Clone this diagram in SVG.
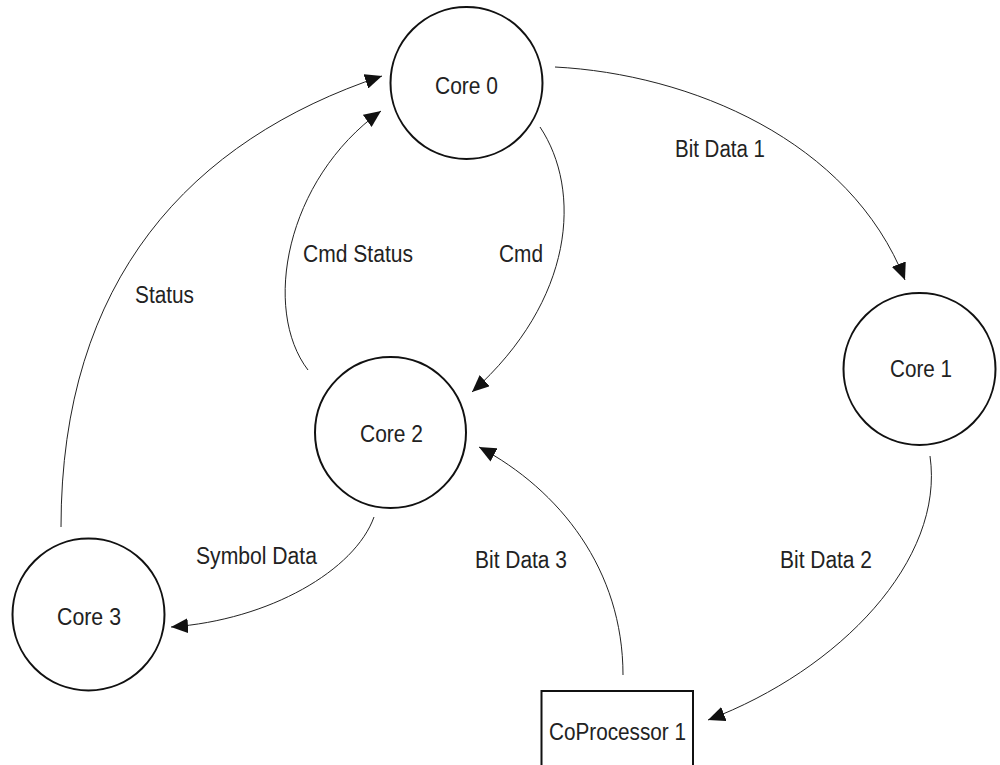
<svg xmlns="http://www.w3.org/2000/svg" width="1000" height="765" viewBox="0 0 1000 765">
<defs>
<marker id="arrow" markerUnits="userSpaceOnUse" markerWidth="17" markerHeight="15" refX="17" refY="7.5" orient="auto">
<path d="M0,0 L17,7.5 L0,15 z" fill="#111"/>
</marker>
<style>
.node{fill:#fff;stroke:#111;stroke-width:2}
.lbl{font-family:"Liberation Sans",Arial,sans-serif;font-size:23.5px;fill:#222;text-anchor:middle}
.edge{fill:none;stroke:#222;stroke-width:1;marker-end:url(#arrow)}
.elbl{font-family:"Liberation Sans",Arial,sans-serif;font-size:23.5px;fill:#222}
</style>
</defs>
<rect width="1000" height="765" fill="#fff"/>
<g id="connectors">
<path class="edge" d="M555,67 C690,74 850,140 905,280"/>
<path class="edge" d="M540,127 C582,190 575,300 472,392"/>
<path class="edge" d="M308,370 C262,310 285,180 381,111"/>
<path class="edge" d="M61,527 C61,280 190,140 382,76"/>
<path class="edge" d="M374,517 C355,570 270,620 171,627"/>
<path class="edge" d="M623,675 C623,570 560,490 479,447"/>
<path class="edge" d="M930,456 C945,560 840,670 708,720"/>
<text class="elbl" x="675" y="157" textLength="90" lengthAdjust="spacingAndGlyphs">Bit Data 1</text>
<text class="elbl" x="499" y="261.5" textLength="44" lengthAdjust="spacingAndGlyphs">Cmd</text>
<text class="elbl" x="303" y="261.5" textLength="110" lengthAdjust="spacingAndGlyphs">Cmd Status</text>
<text class="elbl" x="135" y="302.5" textLength="59" lengthAdjust="spacingAndGlyphs">Status</text>
<text class="elbl" x="196" y="564" textLength="121" lengthAdjust="spacingAndGlyphs">Symbol Data</text>
<text class="elbl" x="475" y="568" textLength="92" lengthAdjust="spacingAndGlyphs">Bit Data 3</text>
<text class="elbl" x="780" y="568" textLength="92" lengthAdjust="spacingAndGlyphs">Bit Data 2</text>
</g>
<g id="core0">
<circle class="node" cx="466.5" cy="83" r="76"/>
<text class="lbl" x="466.5" y="93.5" textLength="63" lengthAdjust="spacingAndGlyphs">Core 0</text>
</g>
<g id="core1">
<circle class="node" cx="919.5" cy="369" r="76"/>
<text class="lbl" x="921" y="376.5" textLength="62" lengthAdjust="spacingAndGlyphs">Core 1</text>
</g>
<g id="core2">
<circle class="node" cx="390.5" cy="432.5" r="75.5"/>
<text class="lbl" x="391.5" y="441.5" textLength="63" lengthAdjust="spacingAndGlyphs">Core 2</text>
</g>
<g id="core3">
<circle class="node" cx="88.5" cy="614.5" r="76"/>
<text class="lbl" x="89" y="624.5" textLength="64" lengthAdjust="spacingAndGlyphs">Core 3</text>
</g>
<g id="coprocessor1">
<rect class="node" x="541.5" y="691" width="151.5" height="90"/>
<text class="lbl" x="617.5" y="739.5" textLength="137" lengthAdjust="spacingAndGlyphs">CoProcessor 1</text>
</g>
</svg>
